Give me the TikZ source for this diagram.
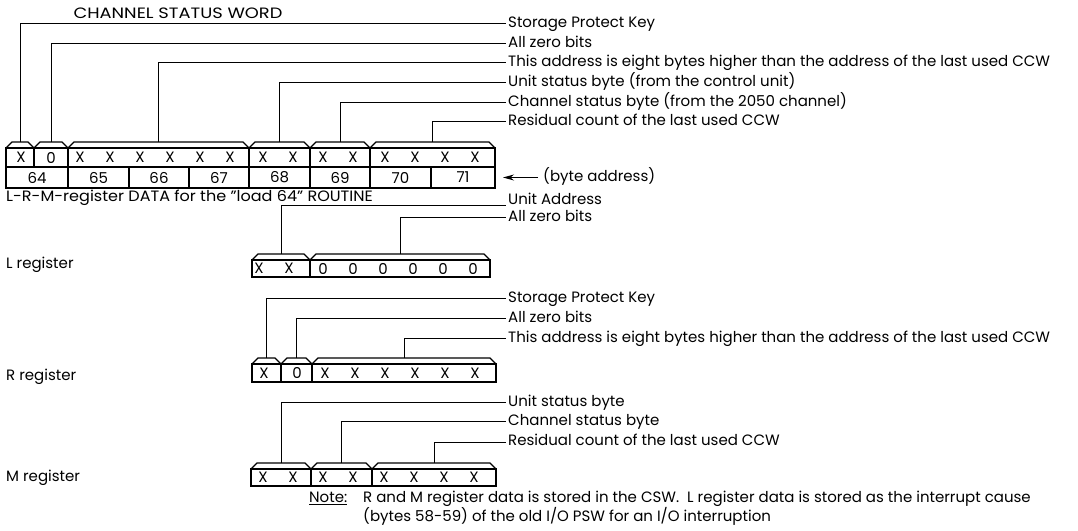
\documentclass[tikz,border=0pt]{standalone}
\usepackage{fontspec}
\usepackage{graphicx}
\setmainfont{Poppins}
\usetikzlibrary{arrows.meta}
\tikzset{
  box/.style={line width=1.3pt},
  leader/.style={line width=1pt},
  txt/.style={font=\fontsize{15}{18}\selectfont, inner sep=0pt},
  lbl/.style={txt, anchor=west, text height=1.4ex, text depth=0pt, inner xsep=2pt},
  bit/.style={txt},
}
% field box with chamfered bracket on top; #1 = name of the bracket point
\newcommand{\regfield}[5]{%
  \draw[box] (#2,#4) rectangle (#3,#5);
  \draw[box] (#2,#5) -- ({#2+6},{#5+6}) -- ({#3-6},{#5+6}) -- (#3,#5);
  \coordinate (#1) at ({(#2+#3)/2},{#5+6});
}
\newcommand{\wide}[2]{\scalebox{#1}[1]{#2}}

\begin{document}
\begin{tikzpicture}[x=1pt, y=1pt]
  \fill[white] (0,0) rectangle (1078,530);
  \useasboundingbox (0,0) rectangle (1078,530);
  % channel status word
  \node[txt] (cswtitle) at (178,517) {\wide{1.19}{CHANNEL STATUS WORD}};
  \regfield{cswkey}{6}{34}{363}{382}
  \regfield{cswzero}{34}{68}{363}{382}
  \regfield{cswaddr}{68}{249}{363}{382}
  \regfield{cswunit}{249}{310}{363}{382}
  \regfield{cswchan}{310}{370}{363}{382}
  \regfield{cswcount}{370}{495}{363}{382}
  \foreach \x/\c [count=\k] in {21/X,51/0,80/X,110/X,140/X,170/X,200/X,230/X,
      263/X,293/X,323/X,353/X,385/X,415/X,445/X,475/X}
    \node[bit] (csw\k) at (\x,372.5) {\c};
  \foreach \n/\l/\r in {64/6/68,65/68/129,66/129/189,67/189/249,68/249/310,
      69/310/370,70/370/431,71/431/495} {
    \draw[box] (\l,342) rectangle (\r,363);
    \node[bit] (byte\n) at ({(\l+\r)/2},352.5) {\n};
  }
  \node[lbl] (keylbl) at (506,506) {Storage Protect Key};
  \node[lbl] (zerolbl) at (506,486) {All zero bits};
  \node[lbl] (addrlbl) at (506,467) {This address is eight bytes higher than the address of the last used CCW};
  \node[lbl] (unitlbl) at (506,447) {Unit status byte (from the control unit)};
  \node[lbl] (chanlbl) at (506,427) {Channel status byte (from the 2050 channel)};
  \node[lbl] (countlbl) at (506,408) {Residual count of the last used CCW};
  \draw[leader] (cswkey) |- (keylbl.west);
  \draw[leader] (cswzero) |- (zerolbl.west);
  \draw[leader] (cswaddr) |- (addrlbl.west);
  \draw[leader] (cswunit) |- (unitlbl.west);
  \draw[leader] (cswchan) |- (chanlbl.west);
  \draw[leader] (cswcount) |- (countlbl.west);
  \node[lbl, inner xsep=5pt] (bytelbl) at (538,352.5) {(byte address)};
  \coordinate (bytetip) at (503,352.5);
  \draw[leader, -{Stealth[length=11pt, width=6pt]}] (bytelbl.west) -- (bytetip);

  % L register
  \node[lbl, inner xsep=0pt] (lrmtitle) at (6,332) {\wide{1.07}{L-R-M-register DATA for the "load 64" ROUTINE}};
  \node[lbl, inner xsep=0pt] (lregname) at (6,265) {L register};
  \regfield{lunit}{252}{310}{253}{270}
  \regfield{lzero}{310}{490}{253}{270}
  \foreach \x/\c [count=\k] in {259/X,289/X,323/0,353/0,383/0,413/0,443/0,473/0}
    \node[bit] (lbit\k) at (\x,261.5) {\c};
  \node[lbl] (lunitlbl) at (506,329) {Unit Address};
  \node[lbl] (lzerolbl) at (506,312) {All zero bits};
  \draw[leader] (lunit) |- (lunitlbl.south west);
  \draw[leader] (lzero) |- (lzerolbl.west);

  % R register
  \node[lbl, inner xsep=0pt] (rregname) at (6,153) {R register};
  \regfield{rkey}{252}{281}{148}{166}
  \regfield{rzero}{281}{312}{148}{166}
  \regfield{raddr}{312}{496}{148}{166}
  \foreach \x/\c [count=\k] in {264/X,297/0,325/X,355/X,385/X,415/X,445/X,475/X}
    \node[bit] (rbit\k) at (\x,157) {\c};
  \node[lbl] (rkeylbl) at (506,231) {Storage Protect Key};
  \node[lbl] (rzerolbl) at (506,211) {All zero bits};
  \node[lbl] (raddrlbl) at (506,191) {This address is eight bytes higher than the address of the last used CCW};
  \draw[leader] (rkey) |- (rkeylbl.west);
  \draw[leader] (rzero) |- (rzerolbl.west);
  \draw[leader] (raddr) |- (raddrlbl.west);

  % M register
  \node[lbl, inner xsep=0pt] (mregname) at (6,52) {M register};
  \regfield{munit}{251}{311}{44}{61}
  \regfield{mchan}{311}{372}{44}{61}
  \regfield{mcount}{372}{496}{44}{61}
  \foreach \x/\c [count=\k] in {263/X,293/X,323/X,353/X,384/X,414/X,444/X,474/X}
    \node[bit] (mbit\k) at (\x,52.5) {\c};
  \node[lbl] (munitlbl) at (506,127) {Unit status byte};
  \node[lbl] (mchanlbl) at (506,108) {Channel status byte};
  \node[lbl] (mcountlbl) at (506,88) {Residual count of the last used CCW};
  \draw[leader] (munit) |- (munitlbl.west);
  \draw[leader] (mchan) |- (mchanlbl.west);
  \draw[leader] (mcount) |- (mcountlbl.west);

  % note
  \node[lbl, inner xsep=0pt] (notehead) at (309,31) {\underline{Note:}};
  \node[lbl, inner xsep=0pt] (note1) at (363,31) {R and M register data is stored in the CSW.\ \ L register data is stored as the interrupt cause};
  \node[lbl, inner xsep=0pt] (note2) at (363,12) {(bytes 58-59) of the old I/O PSW for an I/O interruption};
\end{tikzpicture}
\end{document}
